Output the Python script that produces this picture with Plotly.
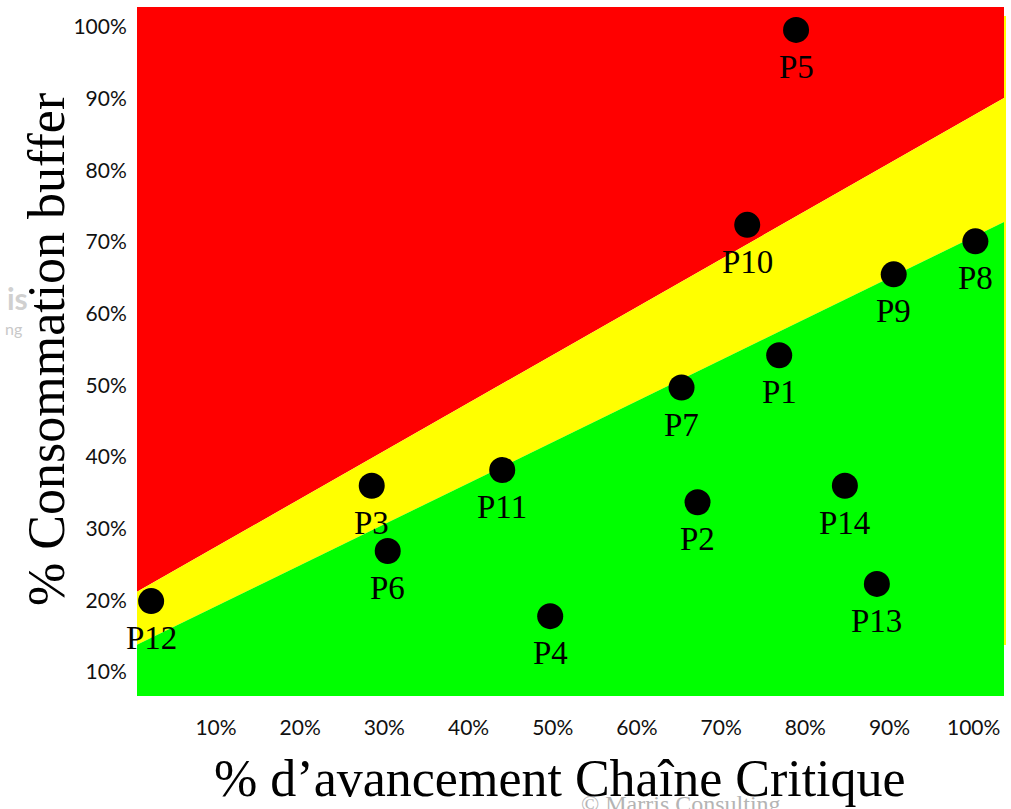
import plotly.graph_objects as go

# ---- data ----
projects = ["P1", "P2", "P3", "P4", "P5", "P6", "P7", "P8", "P9", "P10", "P11", "P12", "P13", "P14"]
avancement = [76.9, 67.2, 28.5, 49.7, 78.9, 30.4, 65.3, 100.2, 90.5, 73.1, 44.0, 2.3, 88.5, 84.7]
consommation = [54.2, 33.7, 36.0, 17.8, 99.6, 26.9, 49.7, 70.1, 65.5, 72.4, 38.2, 19.9, 22.3, 36.0]

x_range = [0.62, 103.6]
y_range = [6.66, 102.8]
# zone boundaries (at x_range ends)
red_yellow_y = [21.2, 90.1]
yellow_green_y = [13.8, 72.8]

tick_vals = [10, 20, 30, 40, 50, 60, 70, 80, 90, 100]
tick_text = ["10%", "20%", "30%", "40%", "50%", "60%", "70%", "80%", "90%", "100%"]

SERIF = "Liberation Serif, Times New Roman, serif"
SANS = "Lato, Open Sans, sans-serif"

fig = go.Figure()

x0, x1 = x_range
y0, y1 = y_range
zones = [
    ("#FF0000", [x0, x1, x1, x0], [y1, y1, red_yellow_y[1], red_yellow_y[0]]),
    ("#FFFF00", [x0, x1, x1, x0], [red_yellow_y[0], red_yellow_y[1], yellow_green_y[1], yellow_green_y[0]]),
    ("#00FF00", [x0, x1, x1, x0], [yellow_green_y[0], yellow_green_y[1], y0, y0]),
]
for color, xs, ys in zones:
    fig.add_trace(go.Scatter(x=xs, y=ys, fill="toself", fillcolor=color, mode="lines",
                             line=dict(width=0, color=color), hoverinfo="skip", showlegend=False))

fig.add_trace(go.Scatter(x=avancement, y=consommation, mode="markers",
                         marker=dict(size=26, color="black", line=dict(width=0)),
                         text=projects, showlegend=False))

annotations = []
# watermark elements (behind titles)
annotations.append(dict(text="© Marris Consulting", xref="paper", yref="paper",
                        x=(681 - 137) / 867, y=(696 - 789) / 689, xanchor="center", yanchor="top",
                        showarrow=False, font=dict(family=SERIF, size=24, color="#b4b4b4")))
annotations.append(dict(text="<b>is</b>", xref="paper", yref="paper",
                        x=(18 - 137) / 867, y=(696 - 298) / 689, xanchor="center", yanchor="middle",
                        showarrow=False, font=dict(family=SANS, size=30, color="#d0d0d0")))
annotations.append(dict(text="ng", xref="paper", yref="paper",
                        x=(14 - 137) / 867, y=(696 - 328) / 689, xanchor="center", yanchor="middle",
                        showarrow=False, font=dict(family=SANS, size=16, color="#c8c8c8")))

for name, xv, yv in zip(projects, avancement, consommation):
    annotations.append(dict(text=name, x=xv, y=yv, xref="x", yref="y", showarrow=False,
                            yshift=-37, xanchor="center", yanchor="middle",
                            font=dict(family=SERIF, size=33, color="black")))

annotations.append(dict(text="% d’avancement Chaîne Critique", xref="paper", yref="paper",
                        x=(560 - 137) / 867, y=(696 - 778) / 689, xanchor="center", yanchor="middle",
                        showarrow=False, font=dict(family=SERIF, size=52, color="black")))
annotations.append(dict(text="% Consommation buffer", xref="paper", yref="paper",
                        x=(46 - 137) / 867, y=(696 - 350) / 689, xanchor="center", yanchor="middle",
                        textangle=-90, showarrow=False, font=dict(family=SERIF, size=52, color="black")))

fig.update_layout(
    width=1011, height=809,
    margin=dict(l=137, r=7, t=7, b=113),
    paper_bgcolor="white", plot_bgcolor="white",
    annotations=annotations,
    shapes=[dict(type="rect", xref="paper", yref="paper",
                 x0=1.0, x1=1.0 + 2 / 867, y0=(696 - 645) / 689, y1=(696 - 16) / 689,
                 fillcolor="#FFFF00", line=dict(width=0), layer="above")],
    xaxis=dict(range=x_range, tickvals=tick_vals, ticktext=tick_text, showgrid=False,
               zeroline=False, showline=False, ticks="outside", ticklen=0, ticklabelstandoff=13,
               tickfont=dict(family=SANS, size=21, color="#111")),
    yaxis=dict(range=y_range, tickvals=tick_vals, ticktext=tick_text, showgrid=False,
               zeroline=False, showline=False, ticks="outside", ticklen=0, ticklabelstandoff=5,
               tickfont=dict(family=SANS, size=21, color="#111")),
)

fig.write_html("out.html")
